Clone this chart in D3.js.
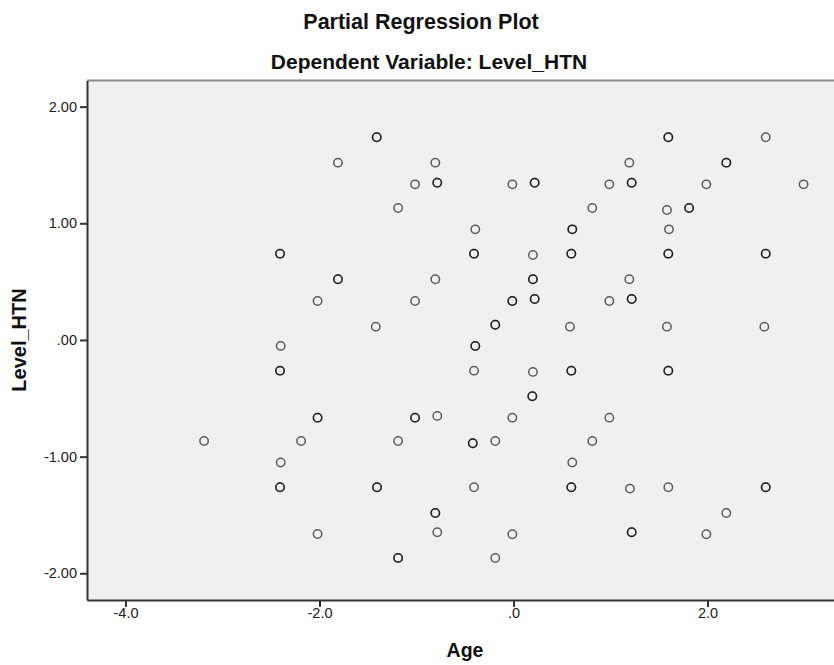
<!DOCTYPE html>
<html>
<head>
<meta charset="utf-8">
<script src="https://cdn.jsdelivr.net/npm/d3@7"></script>
<style>
  html, body { margin: 0; padding: 0; background: #ffffff; }
  svg { display: block; }
  text { font-family: "Liberation Sans", Arial, sans-serif; }
</style>
</head>
<body>
<svg id="chart" width="834" height="665"></svg>
<script>
// ---- Data (partial residuals) ----
const chartTitle = "Partial Regression Plot";
const chartSubtitle = "Dependent Variable: Level_HTN";
const xLabel = "Age";
const yLabel = "Level_HTN";

// x = Age residual, y = Level_HTN residual, n = number of overlapping cases
const ageResid = [
  -1.41, -1.81, -0.806, -1.015, -0.786, -1.19, -2.407, -1.81, -0.806, -2.02, -1.015, -1.42,
  1.596, 2.6, 1.194, 2.194, -0.012, 0.218, 0.988, 1.218, 1.988, 2.99, 0.812, 1.582, 1.81,
  -0.394, 0.606, 1.603, -0.407, 0.2, 0.596, 1.596, 2.6, 0.2, 1.194, -0.012, 0.218, 0.988,
  1.218, -0.188, 0.582, 1.582, 2.586,
  -2.4, -2.407, -2.02, -1.015, -0.786, -3.19, -2.19, -1.19, -2.4, -2.407, -1.407, -0.806,
  -0.786, -2.02, -1.19,
  -0.394, -0.407, 0.2, 0.596, 1.596, 0.194, -0.012, 0.988, -0.42, -0.188, 0.812, 0.606,
  -0.407, 0.596, 1.2, 1.596, 2.6, 2.194, -0.012, 1.218, 1.988, -0.188
];
const htnResid = [
  1.737, 1.52, 1.52, 1.334, 1.348, 1.131, 0.74, 0.52, 0.52, 0.334, 0.334, 0.114,
  1.737, 1.737, 1.52, 1.52, 1.334, 1.348, 1.334, 1.348, 1.334, 1.334, 1.131, 1.114, 1.131,
  0.948, 0.948, 0.948, 0.74, 0.728, 0.74, 0.74, 0.74, 0.52, 0.52, 0.334, 0.351, 0.334,
  0.351, 0.131, 0.114, 0.114, 0.114,
  -0.051, -0.263, -0.666, -0.666, -0.651, -0.866, -0.866, -0.866, -1.051, -1.263, -1.263, -1.483,
  -1.648, -1.663, -1.868,
  -0.051, -0.263, -0.274, -0.263, -0.263, -0.483, -0.666, -0.666, -0.886, -0.866, -0.866, -1.051,
  -1.263, -1.263, -1.274, -1.263, -1.263, -1.483, -1.666, -1.648, -1.666, -1.868
];
const caseCount = [
  2, 1, 1, 1, 2, 1, 2, 2, 1, 1, 1, 1,
  2, 1, 1, 2, 1, 2, 1, 2, 1, 1, 1, 1, 2,
  1, 2, 1, 2, 1, 2, 2, 2, 2, 1, 2, 2, 1,
  2, 2, 1, 1, 1,
  1, 2, 2, 2, 1, 1, 1, 1, 1, 2, 2, 2,
  1, 1, 2,
  2, 1, 1, 2, 2, 2, 1, 1, 2, 1, 1, 1,
  1, 2, 1, 1, 2, 1, 1, 2, 1, 1
];

const xTicks = [-4, -2, 0, 2];
const yTicks = [-2, -1, 0, 1, 2];
const xDomain = [-4.397, 3.304];
const yDomain = [-2.229, 2.224];

// ---- Layout ----
const W = 834, H = 665;
const margin = { left: 87, right: 0, top: 80.5, bottom: 65 };
const svg = d3.select("#chart");

const x = d3.scaleLinear().domain(xDomain).range([margin.left, W - margin.right]);
const y = d3.scaleLinear().domain(yDomain).range([H - margin.bottom, margin.top]);

const stripZero = s => s.replace(/\u2212/g, "-").replace(/^(-?)0\./, "$1.");
const fmtX = v => stripZero(d3.format(".1f")(v));
const fmtY = v => stripZero(d3.format(".2f")(v));

// plot background
svg.append("rect")
  .attr("x", x.range()[0]).attr("y", y.range()[1])
  .attr("width", x.range()[1] - x.range()[0])
  .attr("height", y.range()[0] - y.range()[1])
  .attr("fill", "#f0f0f0");

// top border
svg.append("line")
  .attr("x1", x.range()[0]).attr("x2", x.range()[1])
  .attr("y1", y.range()[1]).attr("y2", y.range()[1])
  .attr("stroke", "#8a8a8a").attr("stroke-width", 2);

// points
const pts = [];
ageResid.forEach((a, i) => {
  for (let k = 0; k < caseCount[i]; k++) pts.push({ x: a, y: htnResid[i] });
});
svg.append("g")
  .selectAll("circle").data(pts).join("circle")
  .attr("cx", d => x(d.x)).attr("cy", d => y(d.y))
  .attr("r", 4.2)
  .attr("fill", "none")
  .attr("stroke", "#000")
  .attr("stroke-opacity", 0.62)
  .attr("stroke-width", 1.5);

// axes
const xAxis = svg.append("g")
  .attr("transform", `translate(0,${y.range()[0]})`)
  .call(d3.axisBottom(x).tickValues(xTicks).tickFormat(fmtX).tickSize(7).tickPadding(1).tickSizeOuter(0));
const yAxis = svg.append("g")
  .attr("transform", `translate(${x.range()[0]},0)`)
  .call(d3.axisLeft(y).tickValues(yTicks).tickFormat(fmtY).tickSize(7).tickPadding(3).tickSizeOuter(0));

[xAxis, yAxis].forEach(g => {
  g.select(".domain").attr("stroke", "#333").attr("stroke-width", 2);
  g.selectAll(".tick line").attr("stroke", "#333").attr("stroke-width", 2);
  g.selectAll(".tick text")
    .attr("fill", "#222")
    .style("font-family", "'Liberation Sans', Arial, sans-serif")
    .style("font-size", "14.5px");
});

// titles
svg.append("text")
  .attr("x", 421).attr("y", 29)
  .attr("text-anchor", "middle")
  .style("font-weight", "bold").style("font-size", "21.5px")
  .attr("fill", "#111")
  .text(chartTitle);
svg.append("text")
  .attr("x", 429).attr("y", 69)
  .attr("text-anchor", "middle")
  .style("font-weight", "bold").style("font-size", "21px")
  .attr("fill", "#111")
  .text(chartSubtitle);

// axis labels
svg.append("text")
  .attr("x", 465).attr("y", 657)
  .attr("text-anchor", "middle")
  .style("font-weight", "bold").style("font-size", "19.5px")
  .attr("fill", "#111")
  .text(xLabel);
svg.append("text")
  .attr("transform", `translate(25.5,340) rotate(-90)`)
  .attr("text-anchor", "middle")
  .style("font-weight", "bold").style("font-size", "20px")
  .attr("fill", "#111")
  .text(yLabel);
</script>
</body>
</html>
